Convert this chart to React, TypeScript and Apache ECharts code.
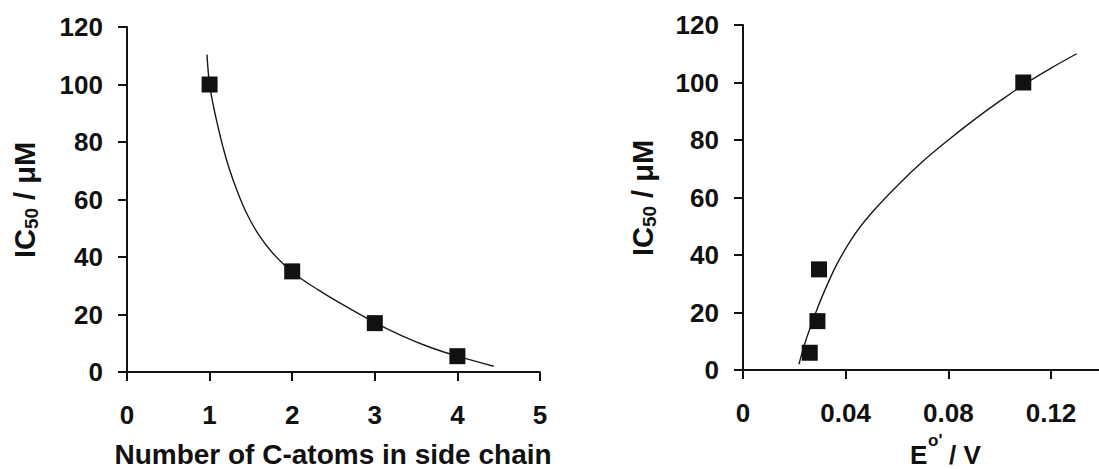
import React, { useEffect, useRef } from "react";
import * as echarts from "echarts";

// Left panel: IC50 vs number of C-atoms in side chain
const carbonAtoms = [1, 2, 3, 4];
const ic50Left = [100, 35, 17, 5.5];
const leftCurveX = [0.968, 1.0, 1.05, 1.1, 1.16, 1.24, 1.34, 1.46, 1.6, 1.76, 2.0, 2.33, 2.65, 3.0, 3.33, 3.66, 4.0, 4.44];
const leftCurveY = [110.4, 100, 92, 85.5, 78.5, 70.5, 62.5, 54.5, 47.5, 41.5, 34.8, 28.3, 22.8, 17.2, 12.6, 8.7, 5.5, 2.0];

// Right panel: IC50 vs E°'
const potentials = [0.026, 0.029, 0.0296, 0.1092];
const ic50Right = [6, 17, 35, 100];
const rightCurveX = [0.0218, 0.024, 0.0265, 0.029, 0.0325, 0.037, 0.043, 0.05, 0.06, 0.07, 0.08, 0.09, 0.1, 0.11, 0.12, 0.13];
const rightCurveY = [2, 9, 15.5, 21.5, 29, 37.5, 46.5, 54.5, 64, 72.5, 80, 87, 93.5, 99.6, 105, 110];

const leftXTicks = { min: 0, max: 5, interval: 1 };
const rightXTicks = { min: 0, max: 0.1387, interval: 0.04 };
const yTicks = { min: 0, max: 120, interval: 20 };

const FONT = '"Liberation Sans", Arial, Helvetica, sans-serif';
const INK = "#111111";

const zip = (xs: number[], ys: number[]) => xs.map((x, i) => [x, ys[i]]);

export default function App() {
  const ref = useRef<HTMLDivElement>(null);

  useEffect(() => {
    if (!ref.current) return;
    const chart = echarts.init(ref.current, undefined, { renderer: "svg" });

    const axisLine = { show: true, onZero: false, lineStyle: { color: INK, width: 2 } };
    const axisTick = { show: true, inside: false, length: 9, lineStyle: { color: INK, width: 2 } };
    const label = (margin: number) => ({
      margin,
      fontSize: 26,
      fontWeight: "bold" as const,
      fontFamily: FONT,
      color: INK,
    });

    const mainRich = { fontSize: 29, fontWeight: "bold", fontFamily: FONT, fill: INK, lineHeight: 32 };
    const subRich = { fontSize: 19, fontWeight: "bold", fontFamily: FONT, fill: INK, lineHeight: 19, padding: [12, 0, 0, 0] };
    const titleStyle = (size: number) => ({
      fontSize: size,
      fontWeight: "bold",
      fontFamily: FONT,
      fill: INK,
      verticalAlign: "middle",
    });

    chart.setOption({
      animation: false,
      backgroundColor: "#ffffff",
      grid: [
        { left: 127, top: 27, width: 413, height: 345 },
        { left: 743, top: 25, width: 356, height: 345 },
      ],
      xAxis: [
        {
          gridIndex: 0,
          type: "value",
          ...leftXTicks,
          axisLine,
          axisTick,
          axisLabel: label(30),
          splitLine: { show: false },
        },
        {
          gridIndex: 1,
          type: "value",
          ...rightXTicks,
          axisLine,
          axisTick,
          axisLabel: {
            ...label(30),
            showMaxLabel: false,
            formatter: (v: number) => (v === 0 ? "0" : String(+v.toFixed(2))),
          },
          splitLine: { show: false },
        },
      ],
      yAxis: [
        {
          gridIndex: 0,
          type: "value",
          ...yTicks,
          axisLine,
          axisTick,
          axisLabel: label(24),
          splitLine: { show: false },
        },
        {
          gridIndex: 1,
          type: "value",
          ...yTicks,
          axisLine,
          axisTick,
          axisLabel: label(24),
          splitLine: { show: false },
        },
      ],
      series: [
        {
          type: "line",
          xAxisIndex: 0,
          yAxisIndex: 0,
          data: zip(leftCurveX, leftCurveY),
          symbol: "none",
          smooth: 0.4,
          lineStyle: { color: "#1a1a1a", width: 1.4 },
          z: 2,
        },
        {
          type: "scatter",
          xAxisIndex: 0,
          yAxisIndex: 0,
          data: zip(carbonAtoms, ic50Left),
          symbol: "rect",
          symbolSize: 16,
          itemStyle: { color: INK, opacity: 1 },
          z: 3,
        },
        {
          type: "line",
          xAxisIndex: 1,
          yAxisIndex: 1,
          data: zip(rightCurveX, rightCurveY),
          symbol: "none",
          smooth: 0.4,
          lineStyle: { color: "#1a1a1a", width: 1.4 },
          z: 2,
        },
        {
          type: "scatter",
          xAxisIndex: 1,
          yAxisIndex: 1,
          data: zip(potentials, ic50Right),
          symbol: "rect",
          symbolSize: 16,
          itemStyle: { color: INK, opacity: 1 },
          z: 3,
        },
      ],
      graphic: [
        {
          type: "text",
          x: 333,
          y: 454,
          style: { ...titleStyle(28), text: "Number of C-atoms in side chain", align: "center" },
        },
        {
          type: "text",
          x: 910,
          y: 455,
          style: { ...titleStyle(26), text: "E", align: "left" },
        },
        {
          type: "text",
          x: 928,
          y: 440,
          style: { ...titleStyle(17), text: "o'", align: "left" },
        },
        {
          type: "text",
          x: 949,
          y: 455,
          style: { ...titleStyle(26), text: "/ V", align: "left" },
        },
        {
          type: "text",
          x: 25,
          y: 200,
          rotation: Math.PI / 2,
          style: {
            text: "{a|IC}{b|50}{a| / μM}",
            align: "center",
            verticalAlign: "middle",
            rich: { a: mainRich, b: subRich },
          },
        },
        {
          type: "text",
          x: 643,
          y: 198,
          rotation: Math.PI / 2,
          style: {
            text: "{a|IC}{b|50}{a| / μM}",
            align: "center",
            verticalAlign: "middle",
            rich: { a: mainRich, b: subRich },
          },
        },
      ],
    });

    return () => chart.dispose();
  }, []);

  return (
    <div
      ref={ref}
      style={{ position: "fixed", left: 0, top: 0, width: 1099, height: 469, background: "#fff" }}
    />
  );
}
